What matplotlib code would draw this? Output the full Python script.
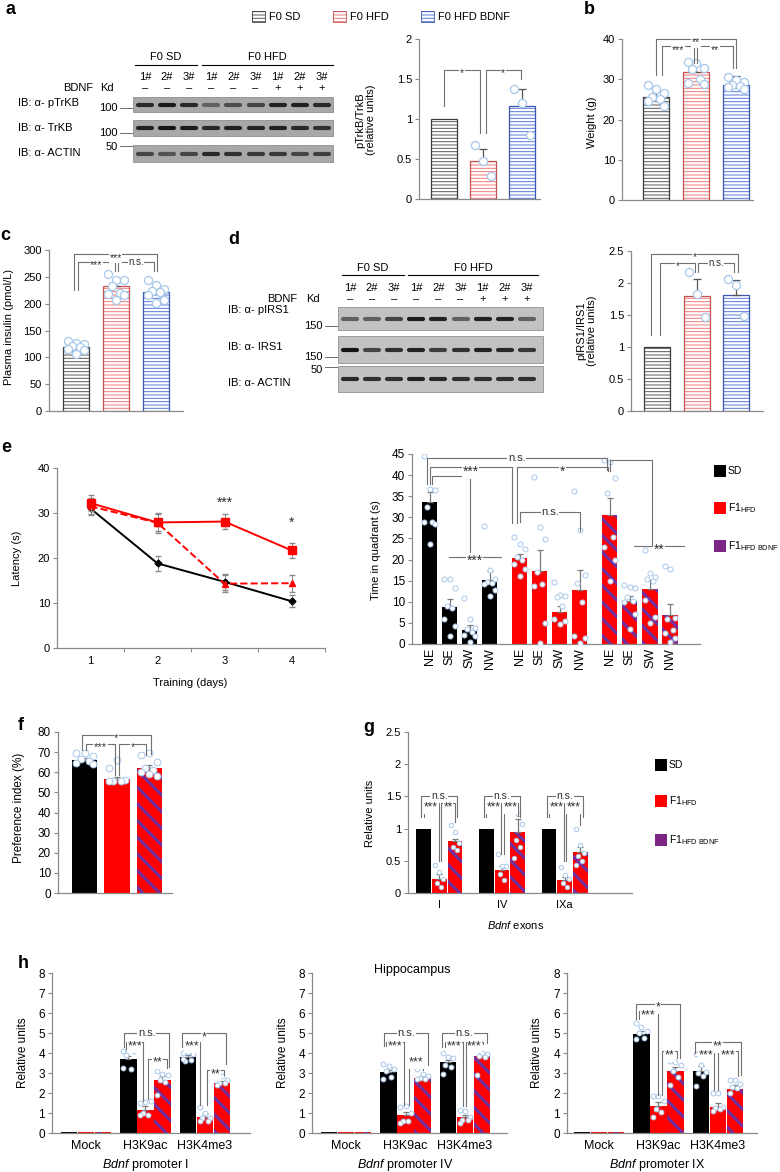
import numpy as np
import matplotlib
matplotlib.use("Agg")
import matplotlib.pyplot as plt
from matplotlib.patches import Rectangle
from matplotlib.ticker import FuncFormatter

plt.rcParams['font.family'] = ['Liberation Sans', 'DejaVu Sans']
plt.rcParams['font.size'] = 8
plt.rcParams['mathtext.fontset'] = 'custom'
plt.rcParams['mathtext.rm'] = 'Liberation Sans'
plt.rcParams['mathtext.it'] = 'Liberation Sans:italic'
plt.rcParams['hatch.linewidth'] = 0.7

# ---------------- data ----------------
f0_groups = ["F0 SD", "F0 HFD", "F0 HFD BDNF"]
f1_groups = ["SD", "F1$_{\\mathrm{HFD}}$", "F1$_{\\mathrm{HFD\\ BDNF}}$"]
lane_ids = ["1#", "2#", "3#", "1#", "2#", "3#", "1#", "2#", "3#"]
bdnf_kd = ["–", "–", "–", "–", "–", "–", "+", "+", "+"]

# a: blot band strength per lane (0 none .. 1 strong)
blot_a_rows = ["IB: α- pTrKB", "IB: α- TrKB", "IB: α- ACTIN"]
blot_a_marks = ["100", "100", "50"]
blot_a_bands = [
    [0.80, 0.90, 0.80, 0.40, 0.55, 0.60, 0.85, 0.85, 0.80],
    [0.85, 0.95, 0.90, 0.80, 0.85, 0.85, 0.85, 0.80, 0.75],
    [0.60, 0.50, 0.60, 0.80, 0.75, 0.70, 0.70, 0.60, 0.65],
]
ptrkb_mean = [1.00, 0.48, 1.16]
ptrkb_err = [0.00, 0.15, 0.22]
ptrkb_pts = [[], [0.67, 0.48, 0.29], [1.38, 1.20, 0.80]]

# b
weight_mean = [25.5, 31.8, 28.5]
weight_err = [1.7, 2.6, 2.3]
weight_pts = [[28.6, 27.5, 26.6, 25.7, 25.1, 24.5, 23.4],
              [34.4, 34.0, 32.8, 32.5, 30.1, 29.0, 28.9],
              [30.5, 29.7, 29.2, 28.6, 28.2, 28.0, 27.6]]

# c
insulin_mean = [119, 233, 221]
insulin_err = [4, 7, 6]
insulin_pts = [[130, 126, 124, 122, 120, 116, 113, 107],
               [255, 245, 244, 233, 219, 218, 216, 207],
               [245, 235, 228, 224, 222, 216, 207, 202]]

# d
blot_d_rows = ["IB: α- pIRS1", "IB: α- IRS1", "IB: α- ACTIN"]
blot_d_marks = ["150", "150", "50"]
blot_d_bands = [
    [0.40, 0.40, 0.60, 0.90, 0.85, 0.40, 0.85, 0.85, 0.40],
    [0.95, 0.60, 0.75, 0.85, 0.65, 0.75, 0.85, 0.80, 0.70],
    [0.80, 0.75, 0.75, 0.85, 0.80, 0.75, 0.75, 0.75, 0.75],
]
pirs1_mean = [1.00, 1.80, 1.82]
pirs1_err = [0.00, 0.26, 0.23]
pirs1_pts = [[], [2.17, 1.83, 1.47], [2.07, 1.97, 1.49]]

# e left
days = [1, 2, 3, 4]
lat_sd = [31.0, 18.8, 14.7, 10.4]
lat_sd_err = [1.5, 1.6, 1.7, 1.3]
lat_hfd = [32.2, 27.9, 28.1, 21.7]
lat_hfd_err = [1.8, 1.9, 1.7, 1.6]
lat_bdnf = [31.5, 27.8, 14.3, 14.4]
lat_bdnf_err = [1.8, 2.2, 1.9, 1.9]

# e right
quadrants = ["NE", "SE", "SW", "NW"]
quad_sd = [33.6, 8.8, 3.3, 15.2]
quad_sd_err = [2.3, 1.9, 1.2, 2.1]
quad_hfd = [20.3, 17.4, 7.5, 12.7]
quad_hfd_err = [0.9, 4.8, 1.6, 4.9]
quad_bdnf = [30.5, 10.1, 13.1, 6.8]
quad_bdnf_err = [4.1, 1.3, 2.1, 2.7]
quad_sd_pts = [[44.6, 36.8, 36.5, 32.4, 29.0, 28.8, 28.4, 23.7],
               [15.5, 15.5, 13.2, 9.0, 8.5, 6.0, 4.2, 2.0],
               [10.8, 6.0, 3.7, 3.5, 2.9, 2.2, 1.8, 0.4],
               [28.0, 17.6, 15.4, 14.6, 14.5, 14.3, 12.7, 11.3]]
quad_hfd_pts = [[25.3, 23.8, 22.4, 20.5, 20.0, 19.0, 17.8, 16.0],
                [39.6, 27.7, 24.8, 17.0, 14.1, 13.8, 5.0, 0.3],
                [14.8, 11.5, 11.3, 11.2, 9.0, 6.0, 5.5, 4.8],
                [36.2, 27.0, 16.3, 14.5, 10.0, 1.8, 1.5, 0.3]]
quad_bdnf_pts = [[43.5, 43.0, 39.3, 35.7, 25.3, 23.0, 19.8, 15.0],
                 [14.0, 13.5, 13.3, 11.2, 10.3, 10.0, 7.2, 3.5],
                 [22.3, 16.9, 15.8, 15.5, 15.0, 10.5, 6.5, 5.0],
                 [18.5, 17.8, 6.2, 6.0, 3.2, 2.5, 1.5, 0.4]]

# f
pref_mean = [66.0, 56.5, 62.0]
pref_err = [1.0, 1.3, 1.8]
pref_pts = [[69.6, 69.6, 68.2, 66.8, 65.6, 64.6, 64.3],
            [62.3, 65.9, 56.0, 55.7, 55.7, 55.7],
            [68.4, 69.6, 65.1, 62.3, 61.0, 60.1, 58.0, 59.3]]

# g
exons = ["I", "IV", "IXa"]
exon_sd = [1.0, 1.0, 1.0]
exon_hfd = [0.22, 0.35, 0.20]
exon_hfd_err = [0.08, 0.07, 0.05]
exon_bdnf = [0.80, 0.95, 0.63]
exon_bdnf_err = [0.04, 0.20, 0.08]
exon_hfd_pts = [[0.44, 0.33, 0.22, 0.15, 0.10],
                [0.60, 0.42, 0.42, 0.30, 0.20],
                [0.40, 0.28, 0.22, 0.15, 0.10]]
exon_bdnf_pts = [[1.05, 0.95, 0.77, 0.72, 0.66],
                 [1.33, 1.22, 1.07, 0.82, 0.72, 0.55],
                 [1.00, 0.74, 0.62, 0.58, 0.50, 0.43]]

# h  (order of values: Mock, H3K9ac, H3K4me3)
marks = ["Mock", "H3K9ac", "H3K4me3"]
promoters = ["I", "IV", "IX"]
prom_sd = [[0.03, 3.70, 3.80], [0.03, 3.05, 3.55], [0.03, 4.97, 3.10]]
prom_sd_err = [[0, 0.15, 0.10], [0, 0.10, 0.12], [0, 0.12, 0.25]]
prom_hfd = [[0.03, 1.15, 0.82], [0.03, 0.90, 0.78], [0.03, 1.35, 1.28]]
prom_hfd_err = [[0, 0.20, 0.15], [0, 0.15, 0.10], [0, 0.22, 0.20]]
prom_bdnf = [[0.05, 2.65, 2.50], [0.03, 2.75, 3.85], [0.03, 3.10, 2.22]]
prom_bdnf_err = [[0, 0.20, 0.12], [0, 0.08, 0.15], [0, 0.22, 0.20]]
prom_sd_pts = [[[], [4.10, 4.15, 4.10, 3.90, 3.20, 3.25], [4.00, 4.05, 3.95, 3.60, 3.65, 3.70]],
               [[], [3.45, 3.35, 3.20, 3.10, 2.80, 2.70], [4.00, 3.80, 3.75, 3.40, 3.30, 2.95]],
               [[], [5.50, 5.30, 5.10, 5.00, 4.75, 4.70], [3.95, 3.40, 3.05, 3.00, 2.85, 2.35]]]
prom_hfd_pts = [[[], [1.50, 1.55, 1.60, 1.00, 0.90, 0.90], [1.30, 1.00, 0.75, 0.75, 0.60, 0.60]],
                [[], [1.30, 1.35, 1.00, 0.60, 0.60, 0.50], [1.15, 1.10, 0.80, 0.65, 0.65, 0.50]],
                [[], [1.85, 1.85, 1.60, 1.20, 1.05, 0.80], [2.00, 2.00, 1.30, 1.25, 1.20, 1.10]]]
prom_bdnf_pts = [[[], [3.10, 2.95, 2.90, 2.65, 2.55, 1.90], [2.85, 2.85, 2.65, 2.50, 2.50, 2.40]],
                 [[], [3.20, 2.95, 2.85, 2.75, 2.70, 2.70], [4.30, 4.00, 3.95, 3.85, 3.80, 2.90]],
                 [[], [3.60, 3.55, 3.40, 3.10, 2.80, 2.40], [2.65, 2.65, 2.45, 2.30, 2.25, 2.00]]]

# ---------------- style ----------------
F0_HATCH = ['#5a5a5a', '#f07a7a', '#5878d8']
F0_EDGE = ['#3c3c3c', '#c85050', '#3a56b0']
RED = '#ff0000'
PURPLE = '#7030a0'
PURPLE_SW = '#7b2584'
PT_EDGE = '#a8c8ea'
AX_COL = '#8a8a8a'

W, H = 780, 1172
fig = plt.figure(figsize=(W / 100, H / 100), dpi=100)
ov = fig.add_axes([0, 0, 1, 1])
ov.set_xlim(0, W)
ov.set_ylim(H, 0)
ov.axis('off')


def px_axes(x0, y0, x1, y1, fs=8):
    ax = fig.add_axes([x0 / W, 1 - y1 / H, (x1 - x0) / W, (y1 - y0) / H])
    ax.set_facecolor('none')
    for s in ['top', 'right']:
        ax.spines[s].set_visible(False)
    for s in ['left', 'bottom']:
        ax.spines[s].set_color(AX_COL)
        ax.spines[s].set_linewidth(0.9)
    ax.tick_params(axis='y', length=3, width=0.8, color=AX_COL, pad=2, labelsize=fs)
    ax.tick_params(axis='x', length=0, labelsize=fs)
    ax.yaxis.set_major_formatter(FuncFormatter(lambda v, p: '%g' % v))
    return ax


def spread(n, w):
    pattern = np.array([-1.0, 0.0, 1.0, -0.5, 0.5, -1.0, 1.0, 0.0, -0.5, 0.5])
    return pattern[:n] * w


def sig(ax, x1, x2, y, y1, y2, text, fs=7.5, fs_ns=6.5):
    ax.plot([x1, x1, x2, x2], [y1, y, y, y2], color='#707070', lw=0.8,
            zorder=5, clip_on=False)
    if text:
        star = '*' in text
        size = fs if star else fs_ns
        off = -0.32 * size if star else 0
        ax.annotate(text, ((x1 + x2) / 2, y), xytext=(0, off), textcoords='offset points',
                    ha='center', va='center', fontsize=size, color='#303030', zorder=6,
                    annotation_clip=False, bbox=dict(fc='white', ec='none', pad=0.4))


def f0_bars(ax, means, errs, pts):
    for x, (m, e, p) in enumerate(zip(means, errs, pts)):
        ax.bar(x, m, width=0.66, color='white', edgecolor=F0_HATCH[x], hatch='-----',
               lw=0, zorder=2)
        ax.bar(x, m, width=0.66, fill=False, edgecolor=F0_EDGE[x], lw=0.9, zorder=2)
        if e:
            ax.errorbar(x, m, yerr=[[0], [e]], fmt='none', ecolor='#555555',
                        elinewidth=0.9, capsize=3, capthick=0.9, zorder=3)
        if p:
            ax.scatter(x + spread(len(p), 0.2), p, s=34, fc='white', ec=PT_EDGE,
                       lw=0.9, zorder=4)


def f1_bar(ax, x, m, e, kind, width, pts=None, ps=10, pw=0.25):
    if kind == 0:
        ax.bar(x, m, width, color='black', lw=0, zorder=2)
    elif kind == 1:
        ax.bar(x, m, width, color=RED, lw=0, zorder=2)
    else:
        with plt.rc_context({'hatch.linewidth': 2.2}):
            ax.bar(x, m, width, color=RED, edgecolor=PURPLE, hatch='\\\\', lw=0, zorder=2)
    if e:
        ax.errorbar(x, m, yerr=[[0], [e]], fmt='none', ecolor='#7a7a7a',
                    elinewidth=0.9, capsize=2.5, capthick=0.9, zorder=3)
    if pts:
        ax.scatter(x + spread(len(pts), pw), pts, s=ps, fc='white', ec=PT_EDGE,
                   lw=0.7, zorder=4)


def f1_legend(x, ys):
    for y, lab, c in zip(ys, f1_groups, ['black', RED, PURPLE_SW]):
        ov.add_patch(Rectangle((x, y - 6), 12, 12, fc=c, ec='none'))
        ov.text(x + 14, y, lab, va='center', fontsize=7.5)


def vlabel(x, y, text, fs=8):
    ov.text(x, y, text, rotation=90, ha='center', va='center', fontsize=fs,
            linespacing=1.1)


# panel letters
for letter, x, y in [('a', 11, 10), ('b', 589, 9), ('c', 5, 235), ('d', 234, 240),
                     ('e', 6, 447), ('f', 21, 726), ('g', 369, 728), ('h', 23, 963)]:
    ov.text(x, y, letter, fontsize=13, fontweight='bold', ha='center', va='center')

# top legend
for sx, lab, hc, ec in zip([252, 333, 421], f0_groups, F0_HATCH, F0_EDGE):
    ov.add_patch(Rectangle((sx, 11), 13, 11, fc='white', ec=hc, hatch='-----', lw=0))
    ov.add_patch(Rectangle((sx, 11), 13, 11, fill=False, ec=ec, lw=0.6))
    ov.text(sx + 17, 16.5, lab, va='center', fontsize=8)


# western blots
def draw_blot(x0, x1, lane_x, strips, bands, bg, band_lw, rows, row_x, row_y,
              marks_txt, mark_y, tick_y, mark_x, head_y, line_y, sd_line, hfd_line,
              lane_y, kd_y, bdnf_x, kd_x):
    for (yt, yb), row in zip(strips, bands):
        ov.add_patch(Rectangle((x0, yt), x1 - x0, yb - yt, fc=bg, ec='#808080', lw=0.5))
        for x, v in zip(lane_x, row):
            g = 0.60 - 0.55 * v
            ov.plot([x - 7, x + 7], [(yt + yb) / 2] * 2, color=str(g), lw=band_lw,
                    solid_capstyle='round')
    for txt, y in zip(rows, row_y):
        ov.text(row_x, y, txt, va='center', ha='left', fontsize=8)
    for txt, y, ty in zip(marks_txt, mark_y, tick_y):
        ov.text(mark_x, y, txt, va='center', ha='right', fontsize=8)
        ov.plot([mark_x + 2, x0 - 1], [ty, ty], color='#555555', lw=0.6)
    ov.text((sd_line[0] + sd_line[1]) / 2, head_y, "F0 SD", ha='center', va='center', fontsize=8)
    ov.text((hfd_line[0] + hfd_line[1]) / 2, head_y, "F0 HFD", ha='center', va='center', fontsize=8)
    ov.plot(sd_line, [line_y, line_y], color='black', lw=0.8)
    ov.plot(hfd_line, [line_y, line_y], color='black', lw=0.8)
    for x, lid, s in zip(lane_x, lane_ids, bdnf_kd):
        ov.text(x, lane_y, lid, ha='center', va='center', fontsize=8)
        ov.text(x, kd_y, s, ha='center', va='center', fontsize=8)
    ov.text(bdnf_x, kd_y, "BDNF", ha='center', va='center', fontsize=8)
    ov.text(kd_x, kd_y, "Kd", ha='center', va='center', fontsize=8)


draw_blot(133, 333, 145 + 22.1 * np.arange(9), [(97, 112), (120, 136), (145, 162)],
          blot_a_bands, '#a8a8a8', 3.0, blot_a_rows, 18, [103, 128, 153],
          blot_a_marks, [108, 133, 147], [108, 133, 146], 118, 57, 65,
          [135, 197], [202, 333], 77, 88, 78, 107)
draw_blot(338, 543, 350 + 22.1 * np.arange(9), [(307, 330), (336, 363), (366, 392)],
          blot_d_bands, '#c2c2c2', 3.0, blot_d_rows, 228, [310, 347, 383],
          blot_d_marks, [326, 357, 370], [326, 357, 367], 323, 268, 275,
          [342, 404], [408, 538], 288, 299, 282, 313)

# ---- a bar
ax = px_axes(419, 39, 540, 199)
f0_bars(ax, ptrkb_mean, ptrkb_err, ptrkb_pts)
ax.set_xlim(-0.63, 2.45)
ax.set_ylim(0, 2)
ax.set_yticks([0, 0.5, 1, 1.5, 2])
ax.set_xticks([])
sig(ax, 0, 0.93, 1.61, 1.16, 0.82, '*')
sig(ax, 1.07, 1.96, 1.61, 0.82, 1.50, '*')
vlabel(366, 120, "pTrkB/TrkB\n(relative units)")

# ---- b
ax = px_axes(622, 39, 753, 200)
f0_bars(ax, weight_mean, weight_err, weight_pts)
ax.set_xlim(-0.85, 2.43)
ax.set_ylim(0, 40)
ax.set_yticks(range(0, 41, 10))
ax.set_xticks([])
sig(ax, 0, 2, 40, 31.1, 32.8, '**')
sig(ax, 0.14, 0.96, 38.2, 31.1, 34.0, '***')
sig(ax, 1.04, 1.92, 38.2, 34.0, 32.8, '**')
vlabel(592, 122, "Weight (g)")

# ---- c
ax = px_axes(49, 250, 183, 411)
f0_bars(ax, insulin_mean, insulin_err, insulin_pts)
ax.set_xlim(-0.68, 2.68)
ax.set_ylim(0, 300)
ax.set_yticks(range(0, 301, 50))
ax.set_xticks([])
sig(ax, -0.05, 2.03, 292, 225, 260, '***')
sig(ax, 0.05, 0.97, 278, 225, 260, '***')
sig(ax, 1.05, 1.95, 278, 260, 260, 'n.s.', fs_ns=7)
vlabel(9, 327, "Plasma insulin (pmol/L)")

# ---- d bar
ax = px_axes(631, 251, 763, 411)
f0_bars(ax, pirs1_mean, pirs1_err, pirs1_pts)
ax.set_xlim(-0.66, 2.68)
ax.set_ylim(0, 2.5)
ax.set_yticks([0, 0.5, 1, 1.5, 2, 2.5])
ax.set_xticks([])
sig(ax, -0.15, 2.05, 2.46, 1.18, 2.17, '*')
sig(ax, 0.08, 0.97, 2.31, 1.18, 2.17, '*')
sig(ax, 1.03, 1.95, 2.31, 2.17, 2.17, 'n.s.', fs_ns=7)
vlabel(587, 331, "pIRS1/IRS1\n(relative units)")

# ---- e left
ax = px_axes(57, 468, 325, 648)
ax.errorbar(days, lat_sd, yerr=lat_sd_err, color='black', marker='D', ms=3.5, lw=1.4,
            ecolor='#8a8a8a', elinewidth=0.7, capsize=2, zorder=3)
ax.errorbar(days, lat_hfd, yerr=lat_hfd_err, color=RED, marker='s', ms=5.5, lw=1.4,
            ecolor='#8a8a8a', elinewidth=0.7, capsize=2, zorder=4)
ax.errorbar(days, lat_bdnf, yerr=lat_bdnf_err, color=RED, marker='^', ms=5, lw=1.4,
            ls='--', ecolor='#8a8a8a', elinewidth=0.7, capsize=2, zorder=3)
ax.set_xlim(0.5, 4.5)
ax.set_ylim(0, 40)
ax.set_yticks(range(0, 41, 10))
ax.set_xticks(days)
ax.set_xticks([1.5, 2.5, 3.5, 4.5], minor=True)
ax.tick_params(axis='x', which='minor', length=3, width=0.8, color=AX_COL)
ax.tick_params(axis='x', pad=6)
ax.text(3, 32.3, '***', ha='center', va='center', fontsize=10, color='#303030')
ax.text(4, 27.8, '*', ha='center', va='center', fontsize=10, color='#303030')
ov.text(190, 683, "Training (days)", ha='center', va='center', fontsize=8)
vlabel(17, 558, "Latency (s)")

# ---- e right
ax = px_axes(412, 454, 700, 644, fs=8.5)
qpos = []
for g, (vals, errs, pts) in enumerate([(quad_sd, quad_sd_err, quad_sd_pts),
                                       (quad_hfd, quad_hfd_err, quad_hfd_pts),
                                       (quad_bdnf, quad_bdnf_err, quad_bdnf_pts)]):
    for j in range(4):
        x = g * 4.5 + j
        qpos.append(x)
        f1_bar(ax, x, vals[j], errs[j], g, 0.76, pts[j], ps=13, pw=0.27)
ax.set_xlim(-0.875, 13.5)
ax.set_ylim(0, 45)
ax.set_yticks(range(0, 46, 5))
ax.set_xticks(qpos)
ax.set_xticklabels(quadrants * 3, rotation=90, fontsize=9)
ax.tick_params(axis='x', pad=3)
E_FS = dict(fs=10, fs_ns=8)
sig(ax, -0.14, 8.86, 44.0, 38.0, 41.3, 'n.s.', **E_FS)
sig(ax, 0.0, 4.1, 41.9, 38.0, 28.6, '***', **E_FS)
sig(ax, 4.35, 8.9, 41.9, 28.6, 40.9, '*', **E_FS)
sig(ax, 0.1, 2.0, 39.9, 38.0, 20.7, '')
sig(ax, 0.95, 3.55, 20.7, 20.7, 20.7, '***', **E_FS)
sig(ax, 4.5, 7.53, 31.2, 29.0, 26.7, 'n.s.', **E_FS)
sig(ax, 9.03, 11.1, 43.5, 40.9, 23.5, '')
sig(ax, 10.2, 12.7, 23.3, 23.3, 23.3, '**', **E_FS)
vlabel(376, 550, "Time in quadrant (s)")
f1_legend(714, [471, 508, 546])

# ---- f
ax = px_axes(58, 732, 172, 893, fs=8.5)
for x in range(3):
    f1_bar(ax, x, pref_mean[x], pref_err[x], x, 0.78, pref_pts[x], ps=24, pw=0.25)
ax.set_xlim(-0.82, 2.7)
ax.set_ylim(0, 80)
ax.set_yticks(range(0, 81, 10))
ax.set_xticks([])
sig(ax, -0.08, 2.05, 78.7, 70.9, 69.2, '*', fs=8)
sig(ax, 0.05, 0.94, 74.2, 70.9, 58.5, '***', fs=8)
sig(ax, 1.06, 1.9, 74.2, 58.5, 68.4, '*', fs=8)
vlabel(19, 808, "Preference index (%)", fs=8.5)

# ---- g
ax = px_axes(408, 732, 632, 893)
for k in range(3):
    f1_bar(ax, 4 * k, exon_sd[k], 0, 0, 0.95)
    f1_bar(ax, 4 * k + 1, exon_hfd[k], exon_hfd_err[k], 1, 0.95, exon_hfd_pts[k], ps=10, pw=0.25)
    f1_bar(ax, 4 * k + 2, exon_bdnf[k], exon_bdnf_err[k], 2, 0.95, exon_bdnf_pts[k], ps=10, pw=0.25)
ax.set_xlim(-1.0, 13.3)
ax.set_ylim(0, 2.5)
ax.set_yticks([0, 0.5, 1, 1.5, 2, 2.5])
ax.set_xticks([1, 5, 9])
ax.set_xticklabels(exons)
ax.tick_params(axis='x', pad=5)
G_FS = dict(fs=8.5, fs_ns=7.5)
for k, (r_leg, txt) in enumerate(zip([1.10, 1.20, 1.05], ['**', '***', '***'])):
    o = 4 * k
    sig(ax, o - 0.15, o + 2.15, 1.51, 1.18, 1.18, 'n.s.', **G_FS)
    sig(ax, o + 0.0, o + 0.95, 1.39, 1.18, 0.50 + 0.1 * (k == 1), '***', **G_FS)
    sig(ax, o + 1.1, o + 2.0, 1.39, 0.50 + 0.1 * (k == 1), r_leg, txt, **G_FS)
ov.text(516, 925, "$\\it{Bdnf}$ exons", ha='center', va='center', fontsize=8)
vlabel(370, 813, "Relative units")
f1_legend(655, [765, 801, 840])

# ---- h
h_boxes = [(52, 250, -1.0, 10.65), (312, 507, -1.0, 10.47), (567, 757, -0.88, 10.3)]
h_sigs = [
    [(3.24, 5.90, 5.00, 4.30, 3.30, 'n.s.'), (3.35, 4.37, 4.55, 4.20, 1.60, '***'),
     (4.63, 5.75, 3.72, 1.70, 3.25, '**'),
     (6.63, 9.24, 5.00, 4.30, 3.47, '*'), (6.76, 7.70, 4.55, 4.20, 1.38, '***'),
     (8.10, 9.10, 3.13, 1.40, 2.90, '**')],
    [(3.24, 5.84, 5.00, 4.33, 3.40, 'n.s.'), (3.35, 4.41, 4.55, 4.33, 1.42, '***'),
     (4.70, 5.55, 3.75, 1.42, 3.17, '***'),
     (6.63, 9.27, 5.00, 4.30, 4.50, 'n.s.'), (6.82, 7.86, 4.55, 4.30, 1.33, '***'),
     (8.06, 9.04, 4.55, 1.33, 4.45, '***')],
    [(3.20, 5.76, 6.47, 5.70, 3.75, '*'), (3.35, 4.45, 6.08, 5.70, 1.92, '***'),
     (4.69, 5.57, 4.08, 1.92, 3.75, '**'),
     (6.65, 9.33, 4.53, 4.00, 2.92, '**'), (6.80, 7.78, 4.08, 4.00, 2.17, '***'),
     (8.02, 9.20, 4.08, 2.17, 2.85, '***')],
]
h_xlabel_x = [145, 405, 657]
h_ylabel_x = [23, 283, 537]
for p, (x0, x1, xl, xr) in enumerate(h_boxes):
    ax = px_axes(x0, 973, x1, 1133, fs=8.5)
    for m in range(3):
        base = 3.5 * m
        f1_bar(ax, base, prom_sd[p][m], prom_sd_err[p][m], 0, 0.97, prom_sd_pts[p][m], ps=12, pw=0.3)
        f1_bar(ax, base + 1, prom_hfd[p][m], prom_hfd_err[p][m], 1, 0.97, prom_hfd_pts[p][m], ps=12, pw=0.3)
        f1_bar(ax, base + 2, prom_bdnf[p][m], prom_bdnf_err[p][m], 2, 0.97, prom_bdnf_pts[p][m], ps=12, pw=0.3)
    ax.set_xlim(xl, xr)
    ax.set_ylim(0, 8)
    ax.set_yticks(range(0, 9))
    ax.set_xticks([1, 4.5, 8])
    ax.set_xticklabels(marks, fontsize=9)
    ax.tick_params(axis='x', pad=5)
    for s in h_sigs[p]:
        sig(ax, *s, fs=9, fs_ns=8)
    ov.text(h_xlabel_x[p], 1165, "$\\it{Bdnf}$ promoter " + promoters[p],
            ha='center', va='center', fontsize=9)
    vlabel(h_ylabel_x[p], 1053, "Relative units", fs=8.5)
ov.text(412, 970, "Hippocampus", ha='center', va='center', fontsize=9)

fig.savefig("out.png", dpi=100)
